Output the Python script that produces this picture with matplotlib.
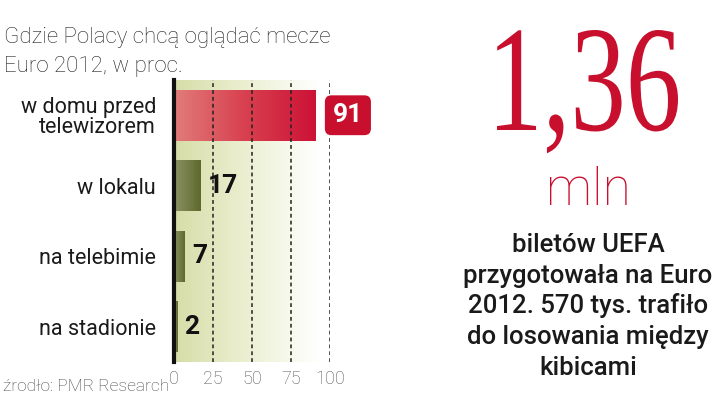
import numpy as np
import matplotlib
matplotlib.use("Agg")
import matplotlib.pyplot as plt
from matplotlib.colors import LinearSegmentedColormap
from matplotlib.textpath import TextPath
from matplotlib.patches import PathPatch
from matplotlib.font_manager import FontProperties
from matplotlib.transforms import Affine2D


categories = ["w domu przed\ntelewizorem", "w lokalu", "na telebimie", "na stadionie"]
values = [91, 17, 7, 2]
ticks = [0, 25, 50, 75, 100]

title_lines = ["Gdzie Polacy chcą oglądać mecze", "Euro 2012, w proc."]
source = "źrodło: PMR Research"
big_number = "1,36"
big_unit = "mln"
body_lines = ["biletów UEFA", "przygotowała na Euro", "2012. 570 tys. trafiło",
              "do losowania między", "kibicami"]

RED = "#c8102e"
W, H = 720, 395

plt.rcParams["font.family"] = ["Roboto", "DejaVu Sans"]

fig = plt.figure(figsize=(W / 100, H / 100), dpi=100)
fig.patch.set_facecolor("white")

ax = fig.add_axes([174 / W, 1 - 362 / H, 156 / W, 282 / H])
ax.set_facecolor("none")

# background gradient behind the bars
bg_cmap = LinearSegmentedColormap.from_list("bg", ["#d6dda8", "#ecf0d2", "#ffffff"])
grad = np.linspace(0, 1, 256).reshape(1, -1)
ax.imshow(grad, cmap=bg_cmap, extent=(0, 93, -0.5, 3.5), aspect="auto", zorder=0)

ypos = np.arange(len(values))
bars = ax.barh(ypos, values, height=0.72, color="none", zorder=1)

red_cmap = LinearSegmentedColormap.from_list("red", ["#e17c7a", "#d8404f", "#cc1236"])
olive_cmap = LinearSegmentedColormap.from_list("olive", ["#8d9366", "#5d692c"])
for i, b in enumerate(bars):
    cmap = red_cmap if i == 0 else olive_cmap
    x0, y0 = b.get_x(), b.get_y()
    im = ax.imshow(grad, cmap=cmap, aspect="auto", zorder=2,
                   extent=(x0, x0 + b.get_width(), y0, y0 + b.get_height()))
    im.set_clip_path(b)

# dashed grid lines over bars
for t in ticks[1:]:
    ax.axvline(t, color="#222222", lw=1.1, ls=(0, (2.5, 2)), zorder=3)

ax.set_xlim(0, 100)
ax.set_ylim(3.5, -0.5)
ax.set_yticks(ypos)
ax.set_yticklabels(categories, fontsize=15.5, color="#1a1a1a", linespacing=0.95)
ax.set_xticks(ticks)
ax.set_xticklabels([str(t) for t in ticks], fontsize=13, color="#555555",
                   fontweight="light")
ax.tick_params(axis="both", length=0)
ax.tick_params(axis="y", pad=13)
ax.tick_params(axis="x", pad=6)
for s in ["top", "right", "bottom"]:
    ax.spines[s].set_visible(False)
ax.spines["left"].set_linewidth(3)
ax.spines["left"].set_color("#111111")
ax.spines["left"].set_zorder(4)

# value labels
for i, v in enumerate(values):
    if i == 0:
        ax.annotate(str(v), (v, ypos[i]), xytext=(23, 0), textcoords="offset points",
                    ha="center", va="center", fontsize=19, fontweight="bold",
                    color="white", annotation_clip=False, zorder=5,
                    bbox=dict(boxstyle="round,pad=0.3,rounding_size=0.25",
                              fc=RED, ec="none"))
    else:
        ax.annotate(str(v), (v, ypos[i]), xytext=(5, 0), textcoords="offset points",
                    ha="left", va="center", fontsize=19, fontweight="bold",
                    color="#111111", annotation_clip=False, zorder=5)

for line, yb in zip(title_lines, [43, 72]):
    fig.text(4 / W, 1 - yb / H, line, ha="left", va="baseline", fontsize=16,
             fontweight="light", color="#222222")
fig.text(3 / W, 1 - 391 / H, source, ha="left", va="baseline", fontsize=12.5,
         fontweight="light", color="#444444")

# big number, horizontally condensed
fp = FontProperties(family="Liberation Serif")
tp = TextPath((0, 0), big_number, size=100, prop=fp)
digits_h = TextPath((0, 0), "136", size=100, prop=fp).get_extents().y1
ext = tp.get_extents()
sx = 181 / ext.width
sy = 100 / digits_h
tr = (Affine2D().translate(-ext.x0, 0).scale(sx / 100, sy / 100)
      .translate(497 / 100, (H - 130) / 100) + fig.dpi_scale_trans)
fig.add_artist(PathPatch(tp, transform=tr, fc=RED, ec="none"))

fig.text(588 / W, 1 - 205 / H, big_unit, ha="center", va="baseline", fontsize=37,
         fontweight="light", color=RED)

baselines = [252, 283, 313, 344, 375]
for line, yb in zip(body_lines, baselines):
    fig.text(588 / W, 1 - yb / H, line, ha="center", va="baseline", fontsize=18.5,
             fontweight="medium", color="#1a1a1a")

fig.savefig("out.png", dpi=100)
